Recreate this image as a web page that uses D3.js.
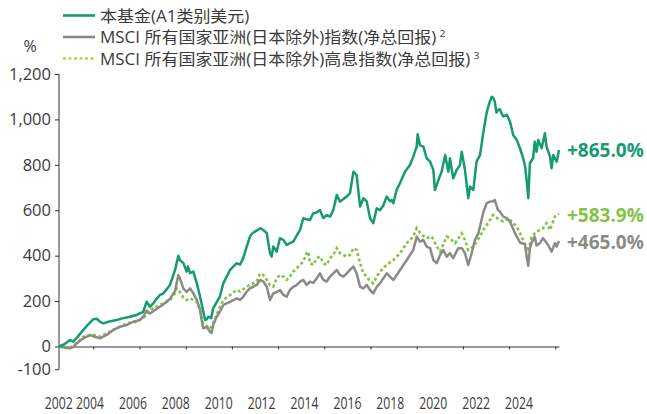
<!DOCTYPE html>
<html><head><meta charset="utf-8">
<script src="https://cdn.jsdelivr.net/npm/d3@7"></script>
<style>
html,body{margin:0;padding:0;background:#fff;}
svg{display:block;}
text{font-family:"Open Sans","Noto Sans",sans-serif;}
.cjk{font-family:"Open Sans","Noto Sans CJK SC",sans-serif;}
</style></head>
<body>
<svg id="chart" width="647" height="414"></svg>
<script>
// ---------- data ----------
const fundYears = [2002.5,2002.75,2002.99,2003.13,2003.3,2003.57,2003.8,2004.0,2004.15,2004.29,2004.43,2004.7,2005.01,2005.3,2005.59,2005.9,2006.16,2006.31,2006.45,2006.6,2006.74,2006.89,2007.03,2007.2,2007.32,2007.54,2007.68,2007.75,2007.9,2008.04,2008.1,2008.19,2008.33,2008.48,2008.62,2008.76,2008.84,2008.91,2008.98,2009.1,2009.19,2009.34,2009.48,2009.63,2009.92,2010.21,2010.35,2010.49,2010.64,2010.78,2010.9,2011.07,2011.22,2011.36,2011.51,2011.65,2011.72,2011.79,2011.94,2012.08,2012.23,2012.37,2012.51,2012.66,2012.81,2012.95,2013.09,2013.24,2013.38,2013.52,2013.67,2013.81,2013.96,2014.10,2014.25,2014.39,2014.54,2014.68,2014.83,2014.97,2015.11,2015.26,2015.40,2015.55,2015.69,2015.84,2015.98,2016.12,2016.27,2016.41,2016.55,2016.70,2016.85,2016.92,2016.99,2017.13,2017.28,2017.49,2017.71,2017.85,2018.00,2018.04,2018.14,2018.29,2018.43,2018.58,2018.72,2018.79,2018.94,2019.08,2019.23,2019.30,2019.37,2019.44,2019.58,2019.73,2019.87,2019.95,2020.09,2020.23,2020.31,2020.45,2020.59,2020.74,2020.88,2021.03,2021.10,2021.17,2021.25,2021.31,2021.38,2021.45,2021.52,2021.60,2021.68,2021.75,2021.90,2022.04,2022.18,2022.33,2022.47,2022.61,2022.69,2022.76,2022.83,2022.90,2023.04,2023.11,2023.19,2023.26,2023.41,2023.55,2023.62,2023.77,2023.84,2023.91,2024.06,2024.16];
const fundValues = [0,10,29,21,40,73,100,120,122,109,102,110,117,125,131,140,153,197,175,190,210,227,234,255,271,337,400,380,367,330,352,323,330,279,220,154,117,120,131,125,168,195,220,279,337,367,360,389,440,484,500,510,521,513,499,411,396,440,418,477,469,447,455,462,490,513,565,560,557,587,590,601,565,579,572,601,667,638,650,660,675,770,755,616,653,638,565,543,609,600,620,660,640,645,631,689,720,770,799,836,880,935,887,880,829,814,777,689,733,770,843,807,770,829,741,777,799,858,777,653,704,689,814,843,940,1030,1057,1080,1100,1095,1079,1030,1042,1045,1025,1013,1020,990,930,910,873,829,795,733,653,807,830,902,858,910,873,939,880,836,785,843,814,865];

const asiaYears = [2002.5,2002.75,2002.99,2003.13,2003.28,2003.57,2003.86,2004.0,2004.29,2004.58,2004.87,2005.16,2005.45,2005.73,2006.02,2006.16,2006.31,2006.45,2006.74,2007.03,2007.32,2007.54,2007.68,2007.75,2007.90,2008.04,2008.19,2008.33,2008.48,2008.62,2008.69,2008.76,2008.91,2009.05,2009.12,2009.19,2009.34,2009.48,2009.63,2009.92,2010.21,2010.35,2010.49,2010.64,2010.78,2011.07,2011.22,2011.36,2011.51,2011.65,2011.79,2011.94,2012.08,2012.23,2012.37,2012.51,2012.66,2012.81,2012.95,2013.09,2013.24,2013.38,2013.52,2013.67,2013.81,2013.96,2014.10,2014.25,2014.39,2014.54,2014.68,2014.83,2014.97,2015.11,2015.26,2015.40,2015.55,2015.69,2015.84,2015.98,2016.12,2016.27,2016.41,2016.70,2016.92,2016.99,2017.28,2017.57,2017.85,2018.00,2018.14,2018.29,2018.43,2018.58,2018.72,2018.87,2019.01,2019.15,2019.30,2019.44,2019.58,2019.80,2019.95,2020.09,2020.23,2020.38,2020.52,2020.67,2020.88,2021.03,2021.17,2021.31,2021.38,2021.52,2021.60,2021.75,2021.90,2022.04,2022.26,2022.47,2022.69,2022.76,2022.83,2022.90,2022.97,2023.04,2023.11,2023.19,2023.33,2023.47,2023.69,2023.84,2023.98,2024.06,2024.16];
const asiaValues = [0,-5,-8,-3,14,36,51,45,36,51,73,87,95,109,117,131,158,145,165,185,210,245,315,300,255,240,256,234,205,161,117,80,87,65,60,95,131,153,183,197,212,205,219,242,256,271,293,286,263,205,234,240,249,227,219,249,263,271,286,293,271,286,280,300,322,293,286,308,322,337,315,308,322,337,352,322,263,256,271,249,234,263,278,322,300,293,337,381,425,484,462,469,440,433,381,367,403,425,396,411,389,433,433,411,359,411,469,498,590,631,638,640,645,601,594,572,565,550,498,458,450,396,355,433,455,470,484,445,455,477,447,418,455,440,465];

const yieldYears = [2002.5,2002.99,2003.28,2003.57,2004.0,2004.29,2004.6,2005.01,2005.45,2005.88,2006.2,2006.45,2007.03,2007.32,2007.54,2007.61,2007.75,2007.90,2008.04,2008.19,2008.33,2008.48,2008.62,2008.76,2008.91,2009.05,2009.19,2009.34,2009.48,2009.63,2009.92,2010.21,2010.35,2010.64,2010.78,2011.07,2011.22,2011.36,2011.51,2011.65,2011.79,2011.94,2012.08,2012.23,2012.37,2012.51,2012.66,2012.95,2013.09,2013.24,2013.31,2013.38,2013.52,2013.67,2013.81,2013.96,2014.10,2014.25,2014.39,2014.54,2014.68,2014.83,2014.97,2015.11,2015.26,2015.40,2015.55,2015.69,2015.84,2015.98,2016.12,2016.27,2016.41,2016.70,2016.99,2017.28,2017.57,2017.85,2018.00,2018.22,2018.43,2018.65,2018.87,2019.01,2019.30,2019.44,2019.66,2019.95,2020.09,2020.23,2020.45,2020.74,2020.88,2021.10,2021.31,2021.52,2021.75,2021.97,2022.18,2022.33,2022.54,2022.76,2022.83,2022.97,2023.19,2023.47,2023.62,2023.77,2023.98,2024.16];
const yieldValues = [0,-5,15,43,51,43,60,80,102,109,130,161,190,205,235,256,240,215,205,212,205,197,161,100,90,78,105,140,175,205,227,249,242,263,271,286,322,315,293,271,263,300,315,308,293,308,330,359,374,411,418,367,359,389,396,367,359,389,403,433,411,403,396,403,433,425,367,322,308,286,278,308,330,360,381,411,455,484,521,491,477,484,440,418,484,477,455,498,469,425,440,484,513,545,579,562,550,565,543,528,484,433,418,484,506,521,543,513,572,584];

const yTicks = [-100,0,200,400,600,800,1000,1200];
const xTicks = [2004,2006,2008,2010,2012,2014,2016,2018,2020,2022,2024];
const yearLabels = ["2002","2004","2006","2008","2010","2012","2014","2016","2018","2020","2022","2024"];
const seriesNames = ["本基金(A1类别美元)","MSCI 所有国家亚洲(日本除外)指数(净总回报)","MSCI 所有国家亚洲(日本除外)高息指数(净总回报)"];
const seriesNotes = ["","2","3"];
const endLabels = ["+865.0%","+583.9%","+465.0%"];

// ---------- drawing ----------
const svg = d3.select("#chart");
const x = d3.scaleLinear().domain([2002.5, 2024.16]).range([58.65, 559]);
const y = d3.scaleLinear().domain([0, 1200]).range([346.5, 74]);
const labelX = d3.scaleLinear().domain([2004, 2024]).range([90, 519]);

const teal = "#169a72", gray = "#8b8b86", lime = "#84c344", text = "#3a3a3a";

// y axis
const yAxis = d3.axisLeft(y).tickValues(yTicks).tickSize(4).tickSizeOuter(0)
  .tickFormat(d => d3.format(",")(d).replace("\u2212","-"));
const gy = svg.append("g").attr("transform","translate(59,0)").call(yAxis);
gy.select(".domain").attr("stroke","#333").attr("d", `M0,${y(1200)}V${y(-100)}`);
gy.selectAll(".tick line").attr("stroke","#333");
gy.selectAll(".tick text").attr("x",-8).attr("fill",text)
  .style("font-size","16.5px").style("font-family","Open Sans");

// x axis along zero
const xAxis = d3.axisBottom(x).tickValues(xTicks).tickSize(3).tickSizeOuter(0).tickFormat("");
const gx = svg.append("g").attr("transform",`translate(0,${y(0)})`).call(xAxis);
gx.select(".domain").attr("stroke","#333");
gx.selectAll(".tick line").attr("stroke","#333");

// year labels
svg.append("g").selectAll("text").data(yearLabels).join("text")
  .attr("transform",(d,i)=>`translate(${i===0 ? x(2002.5) : labelX(+d)},408.5) scale(0.74,1)`)
  .attr("text-anchor","middle").attr("fill",text)
  .style("font-size","16.5px").text(d=>d);

// % label
svg.append("text").attr("x",30).attr("y",52).attr("text-anchor","middle")
  .attr("fill",text).style("font-size","16px").text("%");

// lines
const line = d3.line().x(d=>x(d[0])).y(d=>y(d[1]));
const zip = (a,b)=>a.map((v,i)=>[v,b[i]]);
svg.append("path").datum(zip(yieldYears,yieldValues)).attr("d",line)
  .attr("fill","none").attr("stroke",lime).attr("stroke-width",2.6)
  .attr("stroke-dasharray","3,2.5");
svg.append("path").datum(zip(asiaYears,asiaValues)).attr("d",line)
  .attr("fill","none").attr("stroke",gray).attr("stroke-width",2.5)
  .attr("stroke-linejoin","round");
svg.append("path").datum(zip(fundYears,fundValues)).attr("d",line)
  .attr("fill","none").attr("stroke",teal).attr("stroke-width",2.5)
  .attr("stroke-linejoin","round");

// end labels
const endYs = [157,222,249];
const endColors = [teal, lime, gray];
svg.append("g").selectAll("text").data(endLabels).join("text")
  .attr("x",567).attr("y",(d,i)=>endYs[i]).attr("fill",(d,i)=>endColors[i])
  .style("font-size","19px").style("font-weight","bold").text(d=>d);

// legend
const legY = [15.5, 37, 58.5];
const legColors = [teal, gray, "#bcd52f"];
const leg = svg.append("g");
seriesNames.forEach((name,i)=>{
  const ln = leg.append("line").attr("x1",63).attr("x2",95).attr("y1",legY[i]).attr("y2",legY[i])
    .attr("stroke",legColors[i]).attr("stroke-width",2.6);
  if(i===2) ln.attr("stroke-dasharray","3,2.5");
  const t = leg.append("text").attr("class","cjk")
    .attr("transform",`translate(100,${legY[i]+6}) scale(1.09,1)`)
    .attr("fill",text).style("font-size","15.6px");
  t.append("tspan").text(name);
  if(seriesNotes[i]) t.append("tspan").attr("dx",3).attr("dy",-6).style("font-size","9.5px").text(seriesNotes[i]);
});
</script>
</body></html>
